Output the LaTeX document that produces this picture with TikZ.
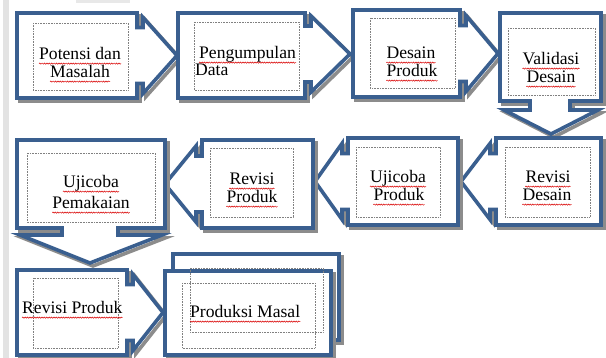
\documentclass[tikz,border=0pt]{standalone}
\usepackage{fontspec}
\setmainfont{Liberation Serif}
\usetikzlibrary{decorations.pathmorphing}
\definecolor{bblue}{HTML}{3A5F8F}
\definecolor{shad}{HTML}{8C8C8C}
\tikzset{
  callout/.style={draw=bblue, line width=3.6pt, fill=white, line join=miter},
  shadowline/.style={draw=shad, line width=3.6pt, line join=miter, shift={(3,3)}},
  innerbox/.style={draw=gray, densely dotted, line width=0.6pt},
  lbl/.style={font=\fontsize{17.6}{18}\selectfont, inner sep=0pt, anchor=base},
  squig/.style={draw=red!85!black, line width=0.5pt, decorate,
    decoration={snake, amplitude=0.6pt, segment length=2.4pt}},
}
% right arrow callout: style, x0, y0, x1, y1, neck x, tip x, centre y
\newcommand{\RCpath}[8]{%
  \draw[#1] (#2,#3) -- (#4,#3) -- (#4,{#8-28}) -- (#6,{#8-28}) -- (#6,{#8-38})
    -- (#7,#8) -- (#6,{#8+38}) -- (#6,{#8+28}) -- (#4,{#8+28}) -- (#4,#5)
    -- (#2,#5) -- cycle;}
% left arrow callout: style, x0, y0, x1, y1, neck x, tip x, centre y
\newcommand{\LCpath}[8]{%
  \draw[#1] (#2,#3) -- (#4,#3) -- (#4,#5) -- (#2,#5) -- (#2,{#8+28})
    -- (#6,{#8+28}) -- (#6,{#8+38}) -- (#7,#8) -- (#6,{#8-38})
    -- (#6,{#8-28}) -- (#2,{#8-28}) -- cycle;}
\newcommand{\Squig}[1]{\draw[squig] ([yshift=-3.6pt]#1.base west) -- ([yshift=-3.6pt]#1.base east);}
\begin{document}
\begin{tikzpicture}[x=1pt,y=-1pt]
\fill[white] (0,0) rectangle (606,358);
\useasboundingbox (0,0) rectangle (606,358);
\fill[gray!22] (3,0) rectangle (9,358);
\fill[gray!18] (76,0) rectangle (130,3);

% ---- row 1
\RCpath{shadowline}{17}{13}{137}{98}{143}{177}{55.5}
\RCpath{callout}{17}{13}{137}{98}{143}{177}{55.5}
\RCpath{shadowline}{178}{13}{305}{98}{311}{350}{54}
\RCpath{callout}{178}{13}{305}{98}{311}{350}{54}
\RCpath{shadowline}{353}{10}{460}{97}{466}{498}{53.5}
\RCpath{callout}{353}{10}{460}{97}{466}{498}{53.5}
\draw[shadowline] (500,13) -- (601,13) -- (601,101) -- (570,101) -- (570,110) -- (598,110)
  -- (551,134) -- (504,110) -- (530,110) -- (530,101) -- (500,101) -- cycle;
\draw[callout] (500,13) -- (601,13) -- (601,101) -- (570,101) -- (570,110) -- (598,110)
  -- (551,134) -- (504,110) -- (530,110) -- (530,101) -- (500,101) -- cycle;

% ---- row 2
\LCpath{shadowline}{496}{138}{601}{225}{490}{461}{181.5}
\LCpath{callout}{496}{138}{601}{225}{490}{461}{181.5}
\LCpath{shadowline}{348}{138}{458}{225}{342}{315}{181.5}
\LCpath{callout}{348}{138}{458}{225}{342}{315}{181.5}
\LCpath{shadowline}{202}{140}{313}{228}{196}{165}{184}
\LCpath{callout}{202}{140}{313}{228}{196}{165}{184}
\draw[shadowline] (17,140) -- (165,140) -- (165,228) -- (118,228) -- (118,235) -- (162,235)
  -- (90,263) -- (20,235) -- (62,235) -- (62,228) -- (17,228) -- cycle;
\draw[callout] (17,140) -- (165,140) -- (165,228) -- (118,228) -- (118,235) -- (162,235)
  -- (90,263) -- (20,235) -- (62,235) -- (62,228) -- (17,228) -- cycle;

% ---- row 3
\RCpath{shadowline}{17}{270}{127}{355}{133}{163}{312.5}
\RCpath{callout}{17}{270}{127}{355}{133}{163}{312.5}
\draw[shadowline] (173,254) rectangle (339,340);
\draw[callout] (173,254) rectangle (339,340);
\draw[shadowline] (165,271) rectangle (331,355);
\draw[callout] (165,271) rectangle (331,355);

% ---- dotted text frames
\draw[innerbox] (33,23) rectangle (128,90);
\draw[innerbox] (194,22) rectangle (299,90);
\draw[innerbox] (370,18) rectangle (455,88);
\draw[innerbox] (508,28) rectangle (595,95);
\draw[innerbox] (505,147) rectangle (590,217);
\draw[innerbox] (356,147) rectangle (440,217);
\draw[innerbox] (210,148) rectangle (293,217);
\draw[innerbox] (27,153) rectangle (155,222);
\draw[innerbox] (33,278) rectangle (118,348);
\draw[innerbox] (182,283) rectangle (315,348);
\draw[innerbox] (190,268) rectangle (323,332);

% ---- labels
\node[lbl] (t1a) at (80,60) {Potensi dan};
\node[lbl] (t1b) at (80,78) {Masalah};
\node[lbl, anchor=base west] (t2a) at (199,59) {Pengumpulan};
\node[lbl, anchor=base west] (t2b) at (195,76) {Data};
\node[lbl] (t3a) at (411,59) {Desain};
\node[lbl] (t3b) at (412,77) {Produk};
\node[lbl] (t4a) at (551,65) {Validasi};
\node[lbl] (t4b) at (551,83) {Desain};
\node[lbl] (t5a) at (548,183) {Revisi};
\node[lbl] (t5b) at (547,201) {Desain};
\node[lbl] (t6a) at (398,183) {Ujicoba};
\node[lbl] (t6b) at (399,201) {Produk};
\node[lbl] (t7a) at (252,185) {Revisi};
\node[lbl] (t7b) at (252,203) {Produk};
\node[lbl] (t8a) at (91,188) {Ujicoba};
\node[lbl] (t8b) at (91,209) {Pemakaian};
\node[lbl, anchor=base west] (t9) at (22,314) {Revisi Produk};
\node[lbl, anchor=base west] (t10) at (190,318) {Produksi Masal};

\Squig{t1a}\Squig{t1b}\Squig{t2a}\Squig{t3a}\Squig{t3b}\Squig{t4a}\Squig{t4b}
\Squig{t5a}\Squig{t5b}\Squig{t6a}\Squig{t6b}\Squig{t7a}\Squig{t7b}\Squig{t8a}\Squig{t8b}
\Squig{t9}\Squig{t10}
\end{tikzpicture}
\end{document}
